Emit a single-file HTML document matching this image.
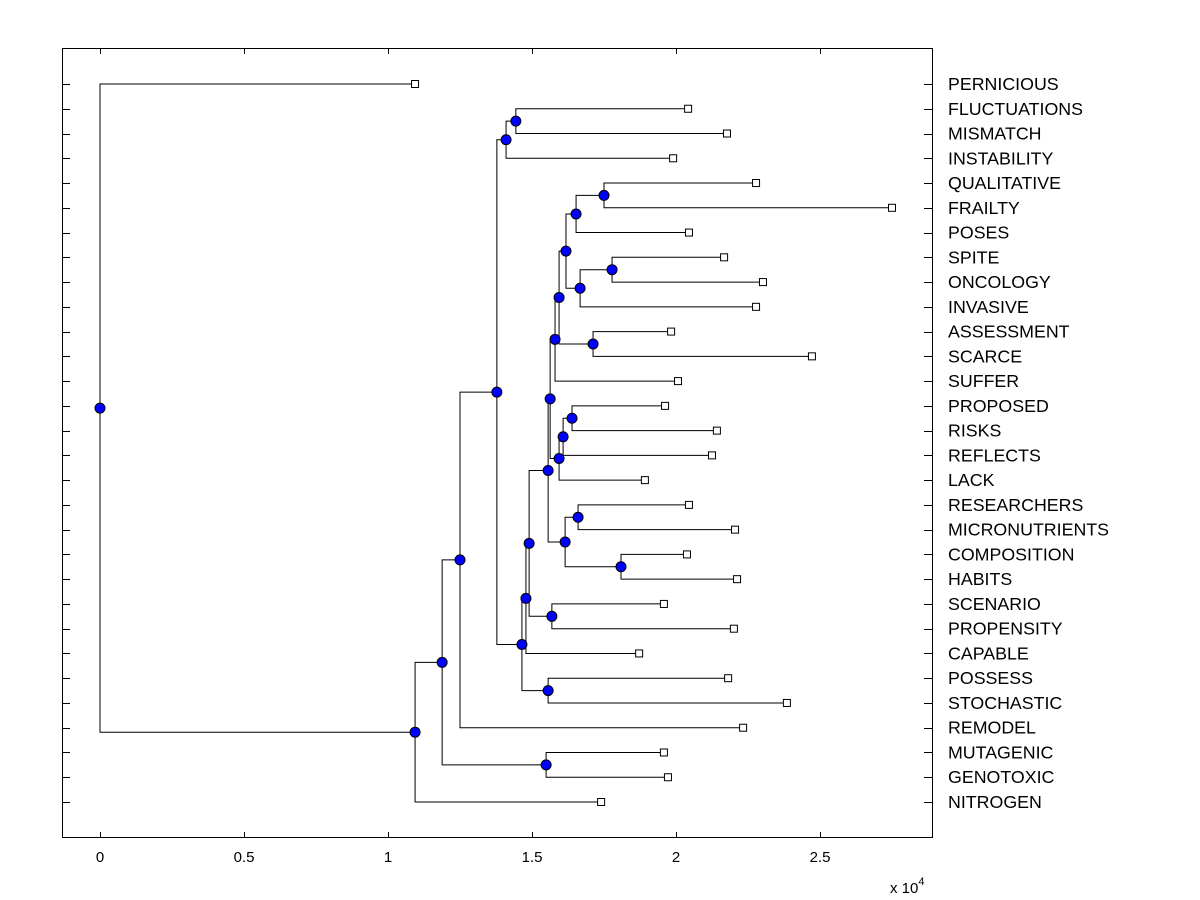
<!DOCTYPE html>
<html><head><meta charset="utf-8"><style>
html,body{margin:0;padding:0;background:#fff;}
svg{display:block;font-family:"Liberation Sans",Arial,sans-serif;}
</style></head><body>
<svg id="chart" width="1200" height="900" xmlns="http://www.w3.org/2000/svg">
<rect x="0" y="0" width="1200" height="900" fill="#fff"/>
<g id="plot"></g>
<rect x="62.5" y="48.5" width="870" height="789" fill="none" stroke="#000" stroke-width="1"/>
<text x="890" y="893" font-size="15">x 10<tspan dy="-8" font-size="11">4</tspan></text>
</svg>
<script>
const leafNames = ["PERNICIOUS","FLUCTUATIONS","MISMATCH","INSTABILITY","QUALITATIVE","FRAILTY","POSES","SPITE","ONCOLOGY","INVASIVE","ASSESSMENT","SCARCE","SUFFER","PROPOSED","RISKS","REFLECTS","LACK","RESEARCHERS","MICRONUTRIENTS","COMPOSITION","HABITS","SCENARIO","PROPENSITY","CAPABLE","POSSESS","STOCHASTIC","REMODEL","MUTAGENIC","GENOTOXIC","NITROGEN"];
const leafValues = [1.094,2.042,2.177,1.990,2.278,2.750,2.045,2.167,2.302,2.278,1.983,2.472,2.007,1.962,2.142,2.125,1.892,2.045,2.205,2.038,2.212,1.958,2.201,1.872,2.181,2.385,2.233,1.958,1.972,1.740];
const mergeA = [1,30,4,32,7,34,33,10,36,38,13,40,41,17,19,43,39,46,21,47,49,24,50,31,53,27,54,56,0];
const mergeB = [2,3,5,6,8,9,35,11,37,12,14,15,16,18,20,44,42,45,22,48,23,25,51,52,26,28,55,29,57];
const mergeH = [1.444,1.410,1.750,1.653,1.778,1.667,1.618,1.712,1.594,1.580,1.639,1.608,1.594,1.660,1.809,1.615,1.563,1.556,1.569,1.490,1.479,1.556,1.465,1.378,1.250,1.549,1.188,1.094,0];
const xTicks = [0,0.5,1,1.5,2,2.5];
const xTickLabels = ["0","0.5","1","1.5","2","2.5"];

const NS="http://www.w3.org/2000/svg";
const plot=document.getElementById('plot');
const xScale=v=>100+288*v;
const rowY=i=>84+i*(802-84)/(leafNames.length-1);
function mk(tag,attrs){const e=document.createElementNS(NS,tag);for(const k in attrs)e.setAttribute(k,attrs[k]);plot.appendChild(e);return e;}

const nodeX=[],nodeY=[];
leafNames.forEach((n,i)=>{nodeX[i]=xScale(leafValues[i]);nodeY[i]=rowY(i);});
mergeH.forEach((h,k)=>{const id=leafNames.length+k;nodeX[id]=xScale(h);nodeY[id]=(nodeY[mergeA[k]]+nodeY[mergeB[k]])/2;});

leafNames.forEach((n,i)=>{
  const y=Math.round(rowY(i))+0.5;
  const t1=mk('line',{x1:62,y1:y,x2:70,y2:y,stroke:'#000'});
  
  
  const t2=mk('line',{x1:924,y1:y,x2:932,y2:y,stroke:'#000'});
  
  
  const tx=mk('text',{x:948,y:rowY(i)+6,'font-size':17.8});
  tx.textContent=n;
  
  
});
xTicks.forEach((v,i)=>{
  const x=Math.round(xScale(v))+0.5;
  const a=mk('line',{x1:x,y1:837,x2:x,y2:832,stroke:'#000'});
  
  
  const b=mk('line',{x1:x,y1:49,x2:x,y2:54,stroke:'#000'});
  
  
  const t=mk('text',{x:xScale(v),y:862,'font-size':15,'text-anchor':'middle'});
  t.textContent=xTickLabels[i];
  
  
});
mergeH.forEach((h,k)=>{
  const id=leafNames.length+k,px=nodeX[id];
  const a=mergeA[k],b=mergeB[k];
  const p=mk('path',{d:`M${nodeX[a]} ${nodeY[a]}H${px}V${nodeY[b]}H${nodeX[b]}`,fill:'none',stroke:'#000','stroke-width':1});
  
  
});
leafNames.forEach((n,i)=>{
  const r=mk('rect',{x:nodeX[i]-3.5,y:nodeY[i]-3.5,width:7,height:7,fill:'#fff',stroke:'#000'});
  
  
});
mergeH.forEach((h,k)=>{
  const id=leafNames.length+k;
  const c=mk('circle',{cx:nodeX[id],cy:nodeY[id],r:5,fill:'#0000ff',stroke:'#000','stroke-width':1});
  
  
});
</script>
</body></html>
